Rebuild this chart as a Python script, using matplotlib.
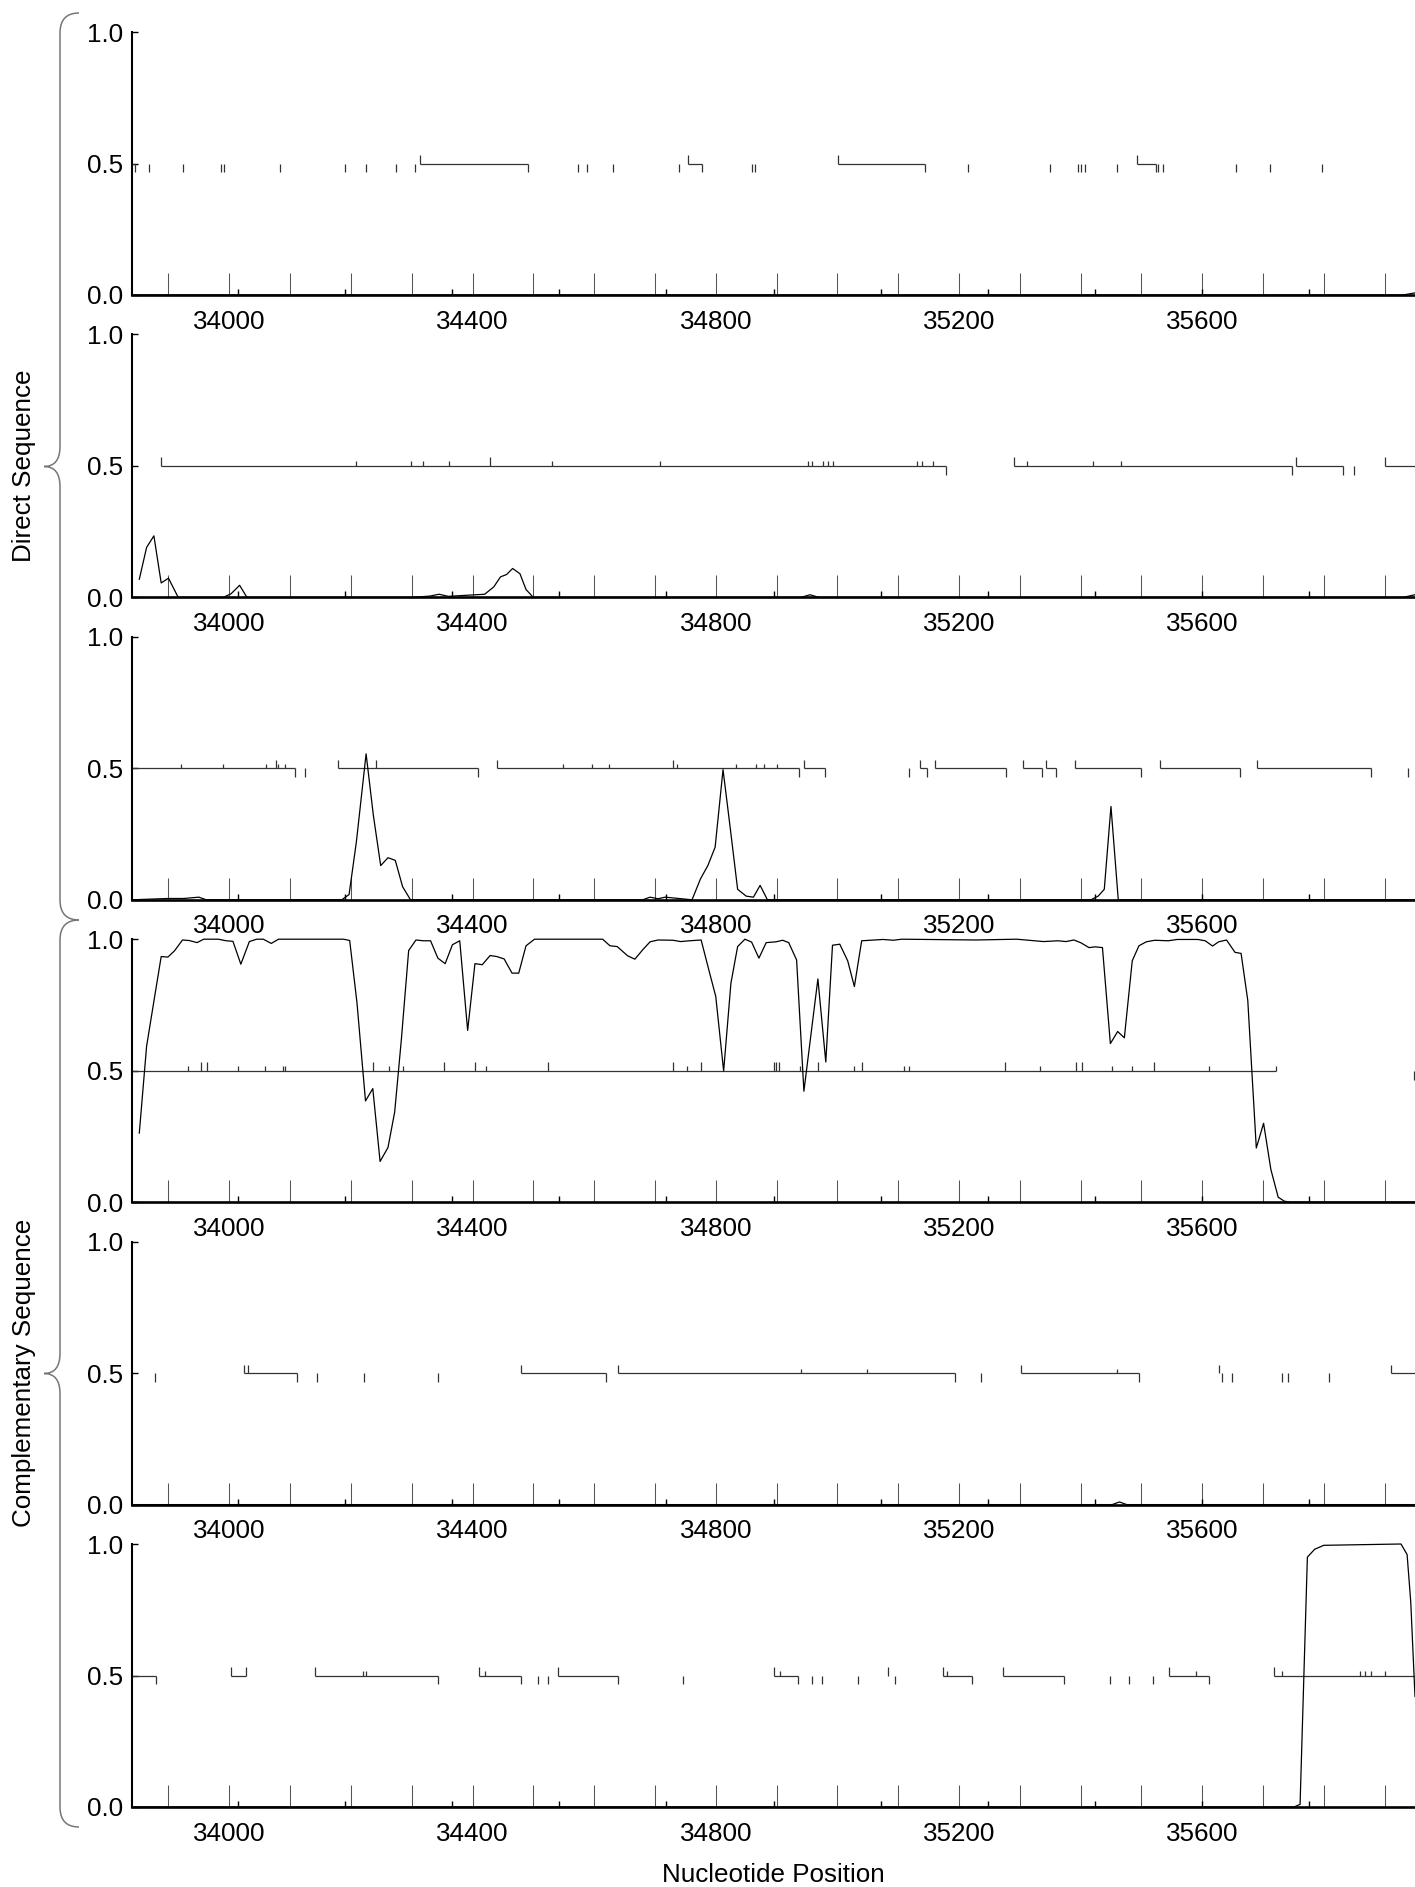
import matplotlib
matplotlib.use('Agg')
import matplotlib.pyplot as plt
from matplotlib.path import Path
from matplotlib.patches import PathPatch
from matplotlib.ticker import FixedLocator, FuncFormatter

plt.rcParams['font.family'] = ['Liberation Sans', 'DejaVu Sans']

# Axis range (nucleotide positions)
x_min, x_max = 33840, 35950
major_ticks = list(range(33900, 36000, 100))
short_ticks = [34015, 34191, 34367, 34543, 34719, 34895, 35071, 35247, 35423, 35599, 35775, 35951]

# ---- Panel 1 (direct, frame 1) ----
curve1_x = [33840, 35930, 35950]
curve1_y = [0.0, 0.0, 0.008]
seg1_start = [33840, 34314, 34755, 35001, 35492]
seg1_end = [33845, 34492, 34777, 35144, 35524]
stop1 = [33845, 33868, 33924, 33987, 33991, 34084, 34191, 34225, 34274, 34306, 34492, 34573, 34589,
         34631, 34740, 34777, 34860, 34864, 35144, 35215, 35349, 35395, 35400, 35408, 35460, 35524,
         35528, 35536, 35656, 35712, 35797]
start1_tall = [34314, 34755, 35001, 35492]
start1_short = []

# ---- Panel 2 (direct, frame 2) ----
curve2_x = [33852, 33864, 33876, 33888, 33900, 33916, 33990, 34003, 34017, 34029, 34300, 34330, 34345,
            34360, 34390, 34420, 34435, 34446, 34456, 34466, 34478, 34488, 34500, 34940, 34955, 34970,
            35930, 35950]
curve2_y = [0.069, 0.19, 0.234, 0.055, 0.073, 0.0, 0.0, 0.014, 0.046, 0.0, 0.0, 0.005, 0.012,
            0.004, 0.008, 0.012, 0.04, 0.078, 0.087, 0.11, 0.09, 0.03, 0.0, 0.0, 0.01, 0.0,
            0.0, 0.01]
seg2_start = [33888, 35290, 35755, 35900]
seg2_end = [35179, 35748, 35831, 35950]
stop2 = [35179, 35748, 35831, 35850]
start2_tall = [33888, 34428, 35290, 35755, 35900]
start2_short = [34209, 34299, 34319, 34362, 34530, 34708, 34951, 34958, 34977, 34985, 34993, 35131,
                35139, 35157, 35312, 35421, 35467]

# ---- Panel 3 (direct, frame 3) ----
curve3_x = [33840, 33900, 33925, 33950, 33962, 34185, 34197, 34209, 34225, 34237, 34249, 34261, 34273,
            34285, 34298, 34680, 34692, 34705, 34717, 34761, 34775, 34787, 34799, 34812, 34824, 34836,
            34850, 34862, 34873, 34885, 35417, 35429, 35439, 35450, 35462, 35950]
curve3_y = [0.0, 0.005, 0.005, 0.01, 0.0, 0.0, 0.02, 0.22, 0.555, 0.32, 0.13, 0.16, 0.15,
            0.05, 0.0, 0.0, 0.01, 0.004, 0.01, 0.0, 0.08, 0.13, 0.2, 0.495, 0.27, 0.04,
            0.014, 0.01, 0.055, 0.0, 0.0, 0.014, 0.04, 0.355, 0.0, 0.0]
seg3_start = [33840, 34179, 34440, 34945, 35136, 35160, 35306, 35343, 35391, 35530, 35690]
seg3_end = [34108, 34409, 34937, 34979, 35148, 35278, 35337, 35360, 35500, 35662, 35878]
stop3 = [34108, 34124, 34409, 34937, 34979, 35118, 35148, 35278, 35337, 35360, 35500, 35662, 35878, 35939]
start3_tall = [34077, 34179, 34241, 34440, 34730, 34945, 35136, 35160, 35306, 35343, 35391, 35530, 35690]
start3_short = [33920, 33989, 34061, 34080, 34092, 34548, 34597, 34625, 34737, 34833, 34867, 34879, 34900]

# ---- Panel 4 (complementary, frame 1) ----
curve4_x = [33852, 33864, 33876, 33888, 33899, 33910, 33923, 33934, 33947, 33958, 33970, 33982, 33995,
            34006, 34019, 34033, 34045, 34056, 34069, 34081, 34092, 34188, 34198, 34210, 34224, 34236,
            34248, 34261, 34272, 34283, 34295, 34307, 34319, 34331, 34343, 34355, 34367, 34379, 34392,
            34404, 34416, 34429, 34440, 34452, 34465, 34476, 34488, 34502, 34614, 34626, 34638, 34655,
            34667, 34680, 34692, 34705, 34730, 34742, 34757, 34776, 34790, 34800, 34813, 34825, 34836,
            34848, 34859, 34871, 34883, 34899, 34910, 34920, 34933, 34945, 34968, 34981, 34992, 35004,
            35017, 35028, 35040, 35075, 35092, 35106, 35228, 35295, 35339, 35363, 35376, 35389, 35400,
            35414, 35424, 35436, 35449, 35461, 35472, 35485, 35496, 35508, 35522, 35544, 35559, 35593,
            35605, 35617, 35627, 35640, 35654, 35664, 35675, 35689, 35701, 35713, 35725, 35735, 35745,
            35950]
curve4_y = [0.263, 0.593, 0.764, 0.934, 0.932, 0.956, 0.997, 0.995, 0.987, 1.0, 1.0, 1.0, 0.994,
            0.992, 0.905, 0.991, 1.0, 1.0, 0.984, 1.0, 1.0, 1.0, 0.995, 0.758, 0.385, 0.432,
            0.155, 0.208, 0.343, 0.619, 0.957, 0.997, 0.994, 0.994, 0.928, 0.907, 0.979, 0.994, 0.653,
            0.907, 0.903, 0.938, 0.934, 0.925, 0.871, 0.871, 0.975, 1.0, 1.0, 0.975, 0.972, 0.937,
            0.924, 0.96, 0.99, 0.997, 0.996, 0.991, 0.994, 0.997, 0.871, 0.783, 0.499, 0.833, 0.972,
            1.0, 0.989, 0.928, 0.987, 0.99, 0.996, 0.987, 0.921, 0.422, 0.849, 0.533, 0.977, 0.981,
            0.918, 0.82, 0.994, 0.999, 0.996, 1.0, 0.997, 1.0, 0.991, 0.994, 0.991, 0.997, 0.987,
            0.968, 0.971, 0.968, 0.603, 0.649, 0.625, 0.918, 0.975, 0.99, 0.996, 0.994, 0.999, 0.999,
            0.994, 0.974, 0.99, 0.997, 0.95, 0.946, 0.767, 0.206, 0.3, 0.124, 0.019, 0.004, 0.0,
            0.0]
seg4_start = [33840]
seg4_end = [35721]
stop4 = [35948]
start4_tall = [33954, 33963, 34236, 34353, 34404, 34524, 34729, 34776, 34896, 34899, 34904, 34968,
               35040, 35275, 35393, 35402, 35520]
start4_short = [33932, 34014, 34059, 34089, 34091, 34263, 34285, 34422, 34752, 34938, 35028, 35109,
                35118, 35334, 35452, 35485, 35612, 35721]

# ---- Panel 5 (complementary, frame 2) ----
curve5_x = [33840, 35452, 35464, 35476, 35950]
curve5_y = [0.0, 0.0, 0.01, 0.0, 0.0]
seg5_start = [34025, 34480, 34639, 35302, 35910]
seg5_end = [34112, 34619, 35193, 35496, 35950]
stop5 = [33878, 34112, 34144, 34221, 34344, 34619, 35193, 35237, 35496, 35633, 35649, 35732, 35741, 35809]
start5_tall = [34025, 34030, 34480, 34639, 35302, 35627, 35910]
start5_short = [34940, 35048, 35460]

# ---- Panel 6 (complementary, frame 3) ----
curve6_x = [33840, 35751, 35761, 35773, 35785, 35800, 35927, 35937, 35943, 35950]
curve6_y = [0.0, 0.0, 0.01, 0.95, 0.98, 0.995, 1.0, 0.96, 0.78, 0.42]
seg6_start = [33840, 34003, 34141, 34411, 34540, 34896, 35173, 35272, 35545, 35718]
seg6_end = [33880, 34027, 34344, 34480, 34639, 34936, 35222, 35373, 35612, 35950]
stop6 = [33880, 34344, 34480, 34508, 34524, 34639, 34746, 34936, 34959, 34975, 35034, 35094, 35222,
         35373, 35448, 35480, 35519, 35612]
start6_tall = [34003, 34027, 34141, 34411, 34540, 34896, 35084, 35173, 35272, 35545, 35718]
start6_short = [34220, 34225, 34420, 34905, 35180, 35590, 35731, 35860, 35868, 35878, 35900]

panels = [
    (curve1_x, curve1_y, seg1_start, seg1_end, stop1, start1_tall, start1_short),
    (curve2_x, curve2_y, seg2_start, seg2_end, stop2, start2_tall, start2_short),
    (curve3_x, curve3_y, seg3_start, seg3_end, stop3, start3_tall, start3_short),
    (curve4_x, curve4_y, seg4_start, seg4_end, stop4, start4_tall, start4_short),
    (curve5_x, curve5_y, seg5_start, seg5_end, stop5, start5_tall, start5_short),
    (curve6_x, curve6_y, seg6_start, seg6_end, stop6, start6_tall, start6_short),
]

W, H = 1415, 1887
fig = plt.figure(figsize=(W / 100, H / 100), dpi=100)

# Panel geometry in pixels
left_px = 132
panel_h = 263
gap = 302.4
first_bottom = 295

fs = 18.7
for i, (cx, cy, s0, s1, stops, st_tall, st_short) in enumerate(panels):
    bottom_px = first_bottom + i * gap
    ax = fig.add_axes([left_px / W, 1 - bottom_px / H, (W - left_px) / W, panel_h / H])

    # ORF lines and codon ticks at 0.5
    ax.hlines([0.5] * len(s0), s0, s1, color='#333333', lw=0.9)
    ax.vlines(stops, 0.466, 0.5, color='#333333', lw=0.9)
    ax.vlines(st_tall, 0.5, 0.532, color='#333333', lw=0.9)
    ax.vlines(st_short, 0.5, 0.517, color='#333333', lw=0.9)

    # coding potential
    ax.plot(cx, cy, color='black', lw=0.9, clip_on=False)

    ax.set_xlim(x_min, x_max)
    ax.set_ylim(0, 1)
    ax.spines['top'].set_visible(False)
    ax.spines['right'].set_visible(False)
    ax.spines['left'].set_linewidth(1.5)
    ax.spines['bottom'].set_linewidth(1.9)

    ax.xaxis.set_major_locator(FixedLocator(major_ticks))
    ax.xaxis.set_major_formatter(FuncFormatter(lambda v, p: '%d' % v if int(v) % 400 == 0 else ''))
    ax.xaxis.set_minor_locator(FixedLocator(short_ticks))
    ax.tick_params(axis='x', which='major', direction='in', length=15.8, width=0.75,
                   color='#555555', labelsize=fs, pad=10.5)
    ax.tick_params(axis='x', which='minor', direction='in', length=4.3, width=1.0, color='black')

    ax.set_yticks([0.0, 0.5, 1.0])
    ax.set_yticklabels(['0.0', '0.5', '1.0'])
    ax.tick_params(axis='y', direction='in', length=4.3, width=1.0, labelsize=fs, pad=6.5)

# Overlay in pixel coordinates for braces and labels
ov = fig.add_axes([0, 0, 1, 1], zorder=-1)
ov.set_xlim(0, W)
ov.set_ylim(H, 0)
ov.axis('off')


def brace(top, bottom, tip_x=44, x=60, end_x=79):
    mid = (top + bottom) / 2
    verts = [(end_x, top), (x, top), (x, top + 20),
             (x, mid - 20),
             (x, mid), (tip_x, mid),
             (x, mid), (x, mid + 20),
             (x, bottom - 20),
             (x, bottom), (end_x, bottom)]
    codes = [Path.MOVETO, Path.CURVE3, Path.CURVE3,
             Path.LINETO,
             Path.CURVE3, Path.CURVE3,
             Path.CURVE3, Path.CURVE3,
             Path.LINETO,
             Path.CURVE3, Path.CURVE3]
    ov.add_patch(PathPatch(Path(verts, codes), fill=False, edgecolor='#777777', lw=1.1))


brace(13, 920)
brace(920, 1827)

ov.text(24, 466, 'Direct Sequence', rotation=90, ha='center', va='center', fontsize=fs)
ov.text(24, 1373, 'Complementary Sequence', rotation=90, ha='center', va='center', fontsize=fs)
ov.text((left_px + W) / 2, 1881.5, 'Nucleotide Position', ha='center', va='baseline', fontsize=fs)

plt.savefig('out.png', dpi=100)
